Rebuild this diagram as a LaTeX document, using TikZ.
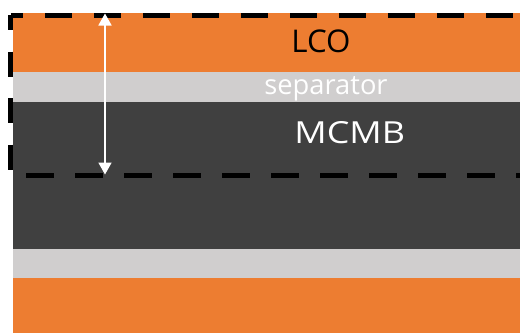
\documentclass[tikz,border=0pt]{standalone}
\usepackage{fontspec}
\setmainfont{Open Sans}
\usetikzlibrary{arrows.meta}
\definecolor{lcoorange}{HTML}{ED7D31}
\definecolor{sepgray}{HTML}{D0CECE}
\definecolor{anodegray}{HTML}{404040}
\tikzset{
  cellline/.style={line width=5pt, line cap=butt, black},
  label/.style={anchor=base, inner sep=0pt},
  gap/.style={white, line width=1.8pt, {Triangle[width=13pt,length=12pt]}-{Triangle[width=13pt,length=12pt]}}
}
\begin{document}
\begin{tikzpicture}[x=1pt, y=-1pt]
  % canvas
  \fill[white] (0,0) rectangle (520,333);
  \useasboundingbox (0,0) rectangle (520,333);

  % electrode stack
  \fill[lcoorange]  (13,13)  rectangle (520,72);
  \fill[sepgray]    (13,72)  rectangle (520,102);
  \fill[anodegray]  (13,102) rectangle (520,249);
  \fill[sepgray]    (13,249) rectangle (520,278);
  \fill[lcoorange]  (13,278) rectangle (520,333);

  % layer names
  \node[label, font=\fontsize{31.3}{34}\selectfont, text=black] (lco) at (321,52.5) {LCO};
  \node[label, font=\fontsize{27.3}{30}\selectfont, text=white] (sep) at (326,94.5) {separator};
  \node[label, font=\fontsize{30.4}{33}\selectfont, text=white] (mcmb) at (349.7,143.3) {\scalebox{1.18}[1]{MCMB}};

  % dashed outline of one unit cell
  \coordinate (tl) at (10.5,15);
  \coordinate (bl) at (10.5,175.6);
  \coordinate (tr) at (525,15);
  \coordinate (br) at (525,175.6);
  \draw[cellline, dash pattern=on 27pt off 22pt, dash phase=14.5pt] (tl) -- (tr);
  \draw[cellline, dash pattern=on 25pt off 21.5pt, dash phase=10pt] (tl) -- (bl);
  \draw[cellline, dash pattern=on 28pt off 21pt, dash phase=33.5pt] (bl) -- (br);

  % cell thickness arrow
  \coordinate (atop) at (105,13.5);
  \coordinate (abot) at (105,174.5);
  \draw[gap] (atop) -- (abot);
\end{tikzpicture}
\end{document}
